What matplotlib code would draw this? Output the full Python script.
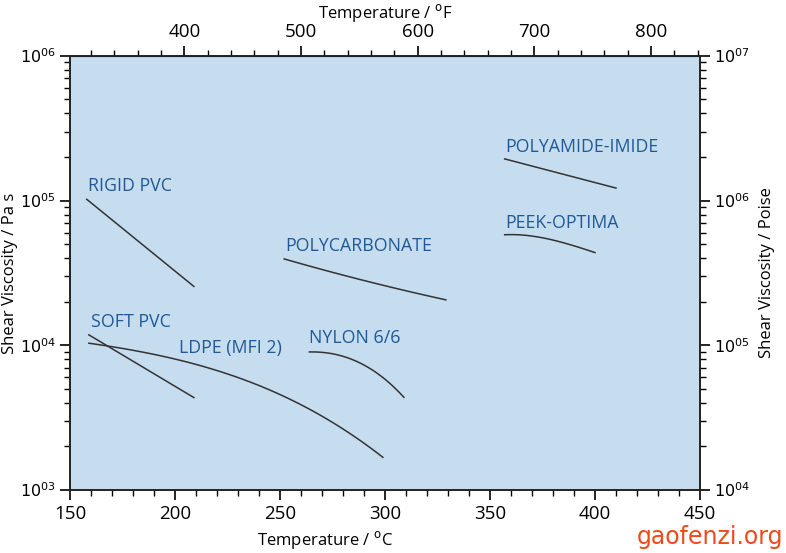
import numpy as np
import matplotlib
matplotlib.use("Agg")
import matplotlib.pyplot as plt
from matplotlib.ticker import FixedLocator, FixedFormatter, MultipleLocator, LogLocator, NullFormatter

plt.rcParams['font.family'] = ['Open Sans', 'DejaVu Sans']

# curves: temperature (degC) and shear viscosity (Pa s)
rigid_pvc_t = [158, 209]
rigid_pvc_v = [1.02e5, 2.55e4]

soft_pvc_t = [159, 209]
soft_pvc_v = [1.18e4, 4.35e3]

ldpe_t = [159, 180, 200, 220, 240, 260, 280, 299]
ldpe_v = [1.02e4, 9.5e3, 8.0e3, 6.6e3, 5.2e3, 3.9e3, 2.7e3, 1.66e3]

nylon_t = [264, 270, 280, 290, 300, 309]
nylon_v = [8.95e3, 9.0e3, 8.4e3, 7.2e3, 5.9e3, 4.35e3]

pc_t = [252, 288, 329]
pc_v = [3.95e4, 2.85e4, 2.06e4]

pai_t = [357, 410]
pai_v = [1.94e5, 1.22e5]

peek_t = [357, 367, 383, 400]
peek_v = [5.8e4, 5.75e4, 5.2e4, 4.37e4]

labels = ["RIGID PVC", "SOFT PVC", "LDPE (MFI 2)", "NYLON 6/6",
          "POLYCARBONATE", "POLYAMIDE-IMIDE", "PEEK-OPTIMA"]
label_t = [158.5, 160, 202, 264, 252.5, 357.5, 357.5]
label_v = [1.26e5, 1.44e4, 9.55e3, 1.12e4, 4.89e4, 2.36e5, 7.05e4]

left_ticks = [1e3, 1e4, 1e5, 1e6]
left_labels = [r'$10^{03}$', r'$10^{04}$', r'$10^{05}$', r'$10^{06}$']
right_ticks = [1e4, 1e5, 1e6, 1e7]
right_labels = [r'$10^{04}$', r'$10^{05}$', r'$10^{06}$', r'$10^{07}$']

line_col = "#333333"
text_col = "#1f5a96"

fig = plt.figure(figsize=(7.86, 5.53), dpi=100)
ax = fig.add_axes([0.089, 0.114, 0.8016, 0.785])
ax.set_facecolor("#c6dcef")

for t, v in [(rigid_pvc_t, rigid_pvc_v), (soft_pvc_t, soft_pvc_v), (ldpe_t, ldpe_v),
             (nylon_t, nylon_v), (pc_t, pc_v), (pai_t, pai_v), (peek_t, peek_v)]:
    if len(t) > 2:
        # smooth curve through the read points (fit in log space)
        tt = np.linspace(t[0], t[-1], 60)
        k = np.polyfit(t, np.log10(v), min(3, len(t) - 1))
        ax.plot(tt, 10 ** np.polyval(k, tt), color=line_col, lw=1.1)
    else:
        ax.plot(t, v, color=line_col, lw=1.1)

for s, x, y in zip(labels, label_t, label_v):
    ax.text(x, y, s, color=text_col, fontsize=12.8, va='center', ha='left')

ax.set_xlim(150, 450)
ax.set_yscale('log')
ax.set_ylim(1e3, 1e6)
ax.xaxis.set_major_locator(MultipleLocator(50))
ax.xaxis.set_minor_locator(MultipleLocator(10))
ax.yaxis.set_major_locator(FixedLocator(left_ticks))
ax.yaxis.set_major_formatter(FixedFormatter(left_labels))
ax.yaxis.set_minor_locator(LogLocator(base=10, subs=np.arange(2, 10)))
ax.yaxis.set_minor_formatter(NullFormatter())
ax.tick_params(axis='x', which='major', length=7, width=1.2, labelsize=13.5, direction='out')
ax.tick_params(axis='y', which='major', length=7, width=1.2, labelsize=11.5, pad=3, direction='out')
ax.tick_params(axis='both', which='minor', length=4, width=1, direction='out')
ax.set_ylabel("Shear Viscosity / Pa s", fontsize=12)
ax.yaxis.set_label_coords(-0.082, 0.5)
ax.set_xlabel(r"Temperature / $^{\mathrm{o}}$C", fontsize=12)
ax.xaxis.set_label_coords(0.405, -0.09)

ax2 = ax.twinx()
ax2.set_yscale('log')
ax2.set_ylim(1e4, 1e7)
ax2.yaxis.set_major_locator(FixedLocator(right_ticks))
ax2.yaxis.set_major_formatter(FixedFormatter(right_labels))
ax2.yaxis.set_minor_locator(LogLocator(base=10, subs=np.arange(2, 10)))
ax2.yaxis.set_minor_formatter(NullFormatter())
ax2.tick_params(axis='y', which='major', length=7, width=1.2, labelsize=11.5, pad=3)
ax2.tick_params(axis='y', which='minor', length=4, width=1)
ax2.set_ylabel("Shear Viscosity / Poise", fontsize=12)
ax2.yaxis.set_label_coords(1.094, 0.5)

top = ax.secondary_xaxis('top', functions=(lambda c: c * 9 / 5 + 32, lambda f: (f - 32) * 5 / 9))
top.xaxis.set_major_locator(MultipleLocator(100))
top.xaxis.set_minor_locator(MultipleLocator(20))
top.tick_params(which='major', length=7, width=1.2, labelsize=13.5)
top.tick_params(which='minor', length=4, width=1)
top.set_xlabel(r"Temperature / $^{\mathrm{o}}$F", fontsize=12)

for a in (ax, ax2):
    for sp in a.spines.values():
        sp.set_linewidth(1.2)
        sp.set_color("#222222")

fig.text(0.81, 0.016, "gaofenzi.org", color="#ee4a1a", fontsize=17, family=['DejaVu Sans'])

fig.savefig("out.png", dpi=100)
